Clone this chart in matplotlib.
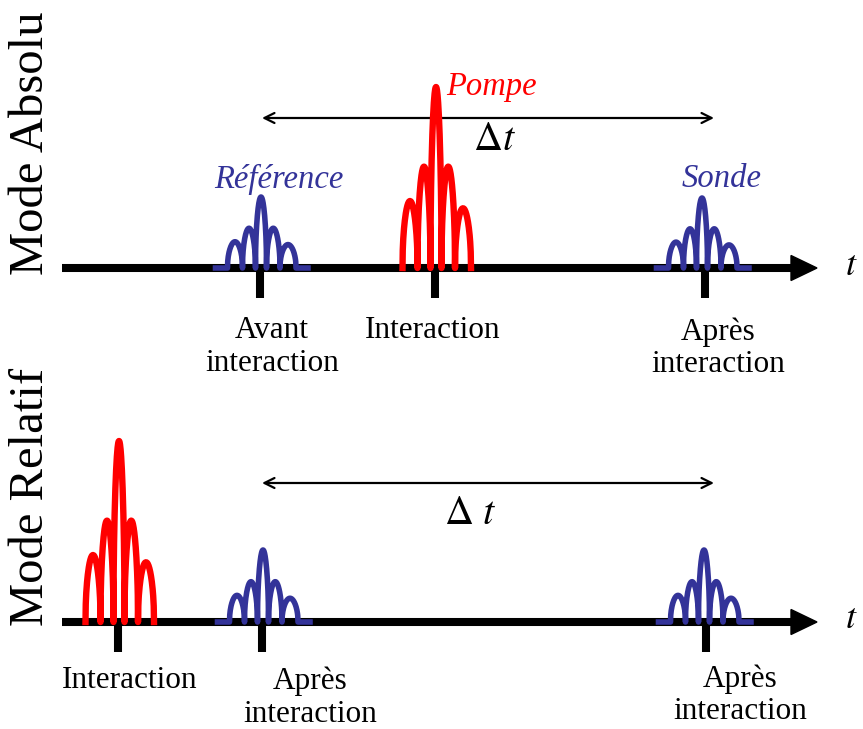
import numpy as np
import matplotlib.pyplot as plt

plt.rcParams['font.family'] = ['Liberation Serif', 'DejaVu Serif']
plt.rcParams['mathtext.fontset'] = 'stix'

# --- donnees du schema (coordonnees en pixels) ---
lobe_dx = [-26, -11, 0, 11, 27]            # position des lobes / centre
lobe_rel = [0.37, 0.56, 1.0, 0.56, 0.33]   # hauteur relative des lobes

# panneau : (ligne de base, position des graduations, etiquettes)
axes_y = [268, 622]
ticks_x = [[260, 435, 705], [118, 262, 706]]
tick_labels = [["Avant\ninteraction", "Interaction", "Après\ninteraction"],
               ["Interaction", "Après\ninteraction", "Après\ninteraction"]]
label_x = [[272, 433, 718], [130, 310, 740]]
label_dy = [[48, 48, 49], [44, 45, 42]]

# impulsions : (panneau, centre, hauteur max, couleur)
pulses = [(0, 261, 71, 'blue'), (0, 436, 181, 'red'), (0, 702, 70, 'blue'),
          (1, 119, 181, 'red'), (1, 263, 72, 'blue'), (1, 704, 72, 'blue')]
colors = {'blue': '#333399', 'red': '#ff0000'}
tails = {'blue': 12, 'red': 0}
widths = {'blue': 4.0, 'red': 4.6}

fig = plt.figure(figsize=(8.63, 7.29), dpi=100)
ax = fig.add_axes([0, 0, 1, 1])
ax.set_xlim(0, 863)
ax.set_ylim(729, 0)
ax.axis('off')


def pulse(xc, h, y0, tail):
    dx = np.array(lobe_dx, float)
    edges = np.concatenate([[dx[0] - (dx[1] - dx[0]) / 2],
                            (dx[:-1] + dx[1:]) / 2,
                            [dx[-1] + (dx[-1] - dx[-2]) / 2]])
    xs, ys = [xc + edges[0] - tail], [y0]
    for i in range(len(dx)):
        t = np.linspace(0, 1, 60)
        xs += list(xc + edges[i] + t * (edges[i + 1] - edges[i]))
        ys += list(y0 - h * lobe_rel[i] * np.sin(np.pi * t) ** 0.45)
    xs.append(xc + edges[-1] + tail)
    ys.append(y0)
    return xs, ys


for k, y0 in enumerate(axes_y):
    ax.plot([62, 795], [y0, y0], color='black', lw=5.8, solid_capstyle='butt', zorder=3)
    ax.fill([791, 791, 817], [y0 - 12.5, y0 + 12.5, y0], color='black', zorder=3)
    for tx in ticks_x[k]:
        ax.plot([tx, tx], [y0, y0 + 30], color='black', lw=5.8, solid_capstyle='butt', zorder=3)
    for lx, dy, lab in zip(label_x[k], label_dy[k], tick_labels[k]):
        ax.text(lx, y0 + dy, lab, ha='center', va='top', fontsize=22.5,
                linespacing=1.18)
    ax.text(851, y0 - 2, '$t$', ha='center', va='center', fontsize=26)

for panel, xc, h, c in pulses:
    xs, ys = pulse(xc, h, axes_y[panel], tails[c])
    ax.plot(xs, ys, color=colors[c], lw=widths[c], zorder=4, solid_joinstyle='round')

# fleches delta t
for ya, ty, txt, tx in [(118, 140, r'$\Delta t$', 494), (483, 515, r'$\Delta\ t$', 470)]:
    ax.annotate('', xy=(262, ya), xytext=(714, ya),
                arrowprops=dict(arrowstyle='<->', lw=1.6, color='black',
                                mutation_scale=18, shrinkA=0, shrinkB=0))
    ax.text(tx, ty, txt, ha='center', va='center', fontsize=29)

ax.text(491, 87, 'Pompe', color=colors['red'], style='italic', fontsize=23.5,
        ha='center', va='center')
ax.text(279, 179, 'Référence', color=colors['blue'], style='italic', fontsize=23.5,
        ha='center', va='center')
ax.text(722, 179, 'Sonde', color=colors['blue'], style='italic', fontsize=23.5,
        ha='center', va='center')

ax.text(31, 143, 'Mode Absolu', rotation=90, fontsize=35, ha='center', va='center')
ax.text(31, 497, 'Mode Relatif', rotation=90, fontsize=35, ha='center', va='center')

fig.savefig('out.png', dpi=100)
